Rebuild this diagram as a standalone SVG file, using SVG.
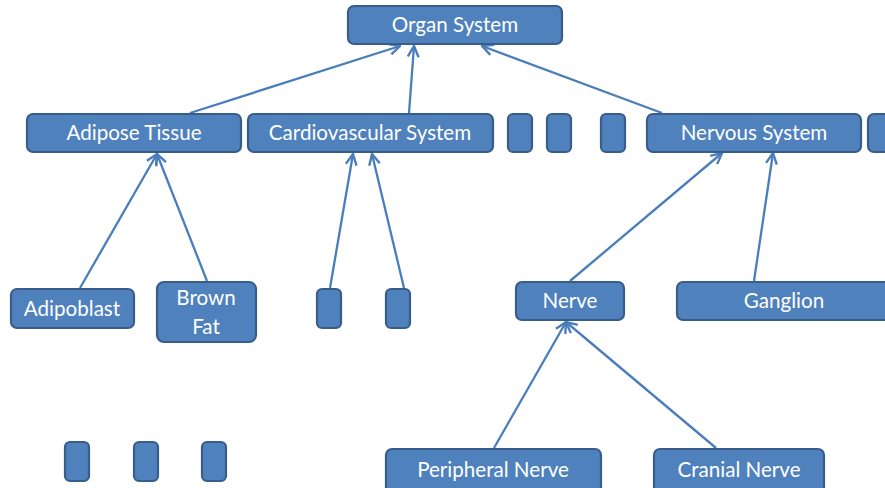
<svg xmlns="http://www.w3.org/2000/svg" width="885" height="488" viewBox="0 0 885 488">
  <defs>
    <marker id="open-arrow" viewBox="0 0 12 12" refX="11" refY="6" markerWidth="13" markerHeight="13" markerUnits="userSpaceOnUse" orient="auto">
      <path d="M1,1 L11,6 L1,11" fill="none" stroke="#4a7ebb" stroke-width="2.2"/>
    </marker>
    <style>
      .box { fill: #4f81bd; stroke: #385d8a; stroke-width: 2.2; }
      .lbl { fill: #ffffff; font-family: Lato, "Open Sans", "Liberation Sans", sans-serif; font-size: 20.6px; text-anchor: middle; }
      .edge { stroke: #4a7ebb; stroke-width: 2.3; fill: none; marker-end: url(#open-arrow); }
    </style>
  </defs>
  <rect width="885" height="488" fill="#ffffff"/>

  <g id="connectors">
    <line class="edge" x1="190" y1="113" x2="400" y2="46"/>
    <line class="edge" x1="409" y1="113" x2="414" y2="46"/>
    <line class="edge" x1="662" y1="113" x2="482" y2="46"/>
    <line class="edge" x1="80" y1="288" x2="157" y2="154"/>
    <line class="edge" x1="207" y1="281" x2="157" y2="154"/>
    <line class="edge" x1="330" y1="288" x2="353" y2="154"/>
    <line class="edge" x1="404" y1="288" x2="372" y2="154"/>
    <line class="edge" x1="570" y1="281" x2="722" y2="153"/>
    <line class="edge" x1="754" y1="281" x2="773" y2="153"/>
    <line class="edge" x1="494" y1="448" x2="566" y2="322"/>
    <line class="edge" x1="716" y1="448" x2="566" y2="322"/>
  </g>

  <g id="organ-system"><rect class="box" x="348" y="6" width="214" height="38" rx="6"/><text class="lbl" x="455" y="32">Organ System</text></g>

  <g id="adipose-tissue"><rect class="box" x="27" y="114" width="214" height="38" rx="6"/><text class="lbl" x="134" y="140">Adipose Tissue</text></g>
  <g id="cardiovascular-system"><rect class="box" x="248" y="114" width="245" height="38" rx="6"/><text class="lbl" x="370" y="140">Cardiovascular System</text></g>
  <g id="row2-a"><rect class="box" x="508" y="114" width="24" height="38" rx="5"/></g>
  <g id="row2-b"><rect class="box" x="547" y="114" width="24" height="38" rx="5"/></g>
  <g id="row2-c"><rect class="box" x="601" y="114" width="24" height="38" rx="5"/></g>
  <g id="nervous-system"><rect class="box" x="647" y="114" width="214" height="38" rx="6"/><text class="lbl" x="754" y="140">Nervous System</text></g>
  <g id="row2-d"><rect class="box" x="868" y="114" width="40" height="38" rx="6"/></g>

  <g id="adipoblast"><rect class="box" x="11" y="289" width="123" height="39" rx="6"/><text class="lbl" x="72" y="316">Adipoblast</text></g>
  <g id="brown-fat"><rect class="box" x="157" y="282" width="99" height="60" rx="7"/><text class="lbl" x="206" y="305">Brown</text><text class="lbl" x="206" y="334">Fat</text></g>
  <g id="row3-a"><rect class="box" x="317" y="289" width="24" height="39" rx="5"/></g>
  <g id="row3-b"><rect class="box" x="386" y="289" width="24" height="39" rx="5"/></g>
  <g id="nerve"><rect class="box" x="516" y="282" width="108" height="38" rx="6"/><text class="lbl" x="570" y="308">Nerve</text></g>
  <g id="ganglion"><rect class="box" x="677" y="282" width="230" height="38" rx="6"/><text class="lbl" x="784" y="308">Ganglion</text></g>

  <g id="row4-a"><rect class="box" x="65" y="442" width="24" height="39" rx="5"/></g>
  <g id="row4-b"><rect class="box" x="134" y="442" width="24" height="39" rx="5"/></g>
  <g id="row4-c"><rect class="box" x="202" y="442" width="24" height="39" rx="5"/></g>
  <g id="peripheral-nerve"><rect class="box" x="386" y="449" width="215" height="48" rx="6"/><text class="lbl" x="493" y="477">Peripheral Nerve</text></g>
  <g id="cranial-nerve"><rect class="box" x="654" y="449" width="170" height="48" rx="6"/><text class="lbl" x="739" y="477">Cranial Nerve</text></g>
</svg>
